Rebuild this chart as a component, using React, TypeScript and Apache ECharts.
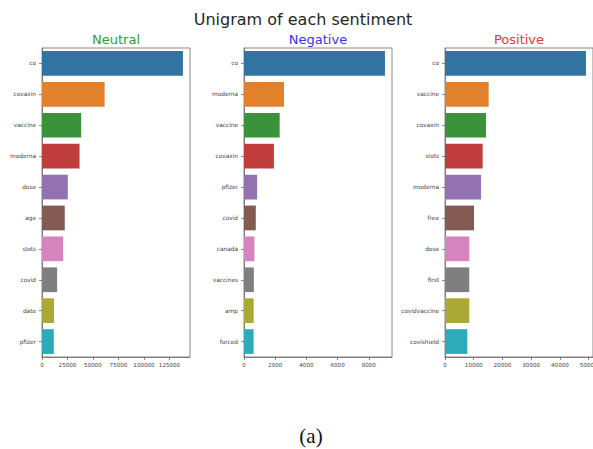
import React, { useEffect, useRef } from "react";
import * as echarts from "echarts";

const neutralWords = ["co", "covaxin", "vaccine", "moderna", "dose", "age", "slots", "covid", "date", "pfizer"];
const neutralValues = [138200, 61400, 38400, 36800, 25300, 22300, 20700, 14800, 11800, 11600];
const neutralTicks = [0, 25000, 50000, 75000, 100000, 125000];

const negativeWords = ["co", "moderna", "vaccine", "covaxin", "pfizer", "covid", "canada", "vaccines", "amp", "forced"];
const negativeValues = [9035, 2566, 2286, 1919, 841, 755, 668, 630, 620, 615];
const negativeTicks = [0, 2000, 4000, 6000, 8000];

const positiveWords = ["co", "vaccine", "covaxin", "slots", "moderna", "free", "dose", "first", "covidvaccine", "covishield"];
const positiveValues = [49070, 15200, 14270, 13110, 12530, 10090, 8470, 8450, 8460, 7770];
const positiveTicks = [0, 10000, 20000, 30000, 40000, 50000];

const panelTitles = ["Neutral", "Negative", "Positive"];
const mainTitle = "Unigram of each sentiment";
const caption = "(a)";

const palette = ["#3274a1", "#e1812c", "#3a923a", "#c03d3e", "#9372b2", "#845b53", "#d684bd", "#7f7f7f", "#a9aa35", "#2eabb8"];
const titleColors = ["#2e9e2e", "#3535ee", "#ee3535"];

export default function App() {
  const ref = useRef<HTMLDivElement>(null);
  useEffect(() => {
    if (!ref.current) return;
    const chart = echarts.init(ref.current, undefined, { renderer: "svg" });
    const panels = [
      { words: neutralWords, values: neutralValues, ticks: neutralTicks },
      { words: negativeWords, values: negativeValues, ticks: negativeTicks },
      { words: positiveWords, values: positiveValues, ticks: positiveTicks },
    ];
    const lefts = [42, 244, 445];
    const centers = [116, 318, 519];
    const spine = "#6a6a6a";
    const font = "DejaVu Sans";
    chart.setOption({
      animation: false,
      backgroundColor: "#ffffff",
      grid: lefts.map((l) => ({
        left: l,
        top: 48,
        width: 148,
        height: 309,
        show: true,
        borderColor: spine,
        borderWidth: 0.8,
        containLabel: false,
        outerBoundsMode: "none",
      })),
      xAxis: panels.map((p, i) => ({
        type: "value",
        gridIndex: i,
        min: 0,
        max: Math.max(...p.values) * 1.05,
        splitLine: { show: false },
        axisLine: { show: true, lineStyle: { color: spine, width: 0.8 } },
        axisTick: { show: true, length: 3, customValues: p.ticks, lineStyle: { color: spine, width: 0.8 } },
        axisLabel: {
          customValues: p.ticks,
          fontSize: 5.6,
          fontFamily: font,
          color: "#444",
          margin: 5,
          hideOverlap: false,
          formatter: (v: number) => String(v),
        },
      })),
      yAxis: panels.map((p, i) => ({
        type: "category",
        gridIndex: i,
        inverse: true,
        data: p.words,
        axisLine: { show: true, lineStyle: { color: spine, width: 0.8 } },
        axisTick: { show: true, alignWithLabel: true, length: 3, lineStyle: { color: spine, width: 0.8 } },
        axisLabel: { fontSize: 5.8, fontFamily: font, color: "#444", margin: 6 },
        splitLine: { show: false },
      })),
      series: panels.map((p, i) => ({
        type: "bar",
        xAxisIndex: i,
        yAxisIndex: i,
        barCategoryGap: "20%",
        data: p.values.map((v, j) => ({ value: v, itemStyle: { color: palette[j] } })),
      })),
      graphic: [
        {
          type: "text",
          x: 303,
          y: 19,
          style: {
            text: mainTitle,
            fontSize: 16,
            fontFamily: font,
            fill: "#262626",
            textAlign: "center",
            textVerticalAlign: "middle",
          },
        },
        ...panelTitles.map((t, i) => ({
          type: "text",
          x: centers[i],
          y: 39.5,
          style: {
            text: t,
            fontSize: 13,
            fontFamily: font,
            fill: titleColors[i],
            textAlign: "center",
            textVerticalAlign: "middle",
          },
        })),
        {
          type: "text",
          x: 311,
          y: 436,
          style: {
            text: caption,
            fontSize: 21,
            fontFamily: "Liberation Serif",
            fill: "#111",
            textAlign: "center",
            textVerticalAlign: "middle",
          },
        },
      ],
    });
    return () => chart.dispose();
  }, []);
  return (
    <div
      ref={ref}
      style={{ position: "fixed", left: 0, top: 0, width: 593, height: 449 }}
    />
  );
}
